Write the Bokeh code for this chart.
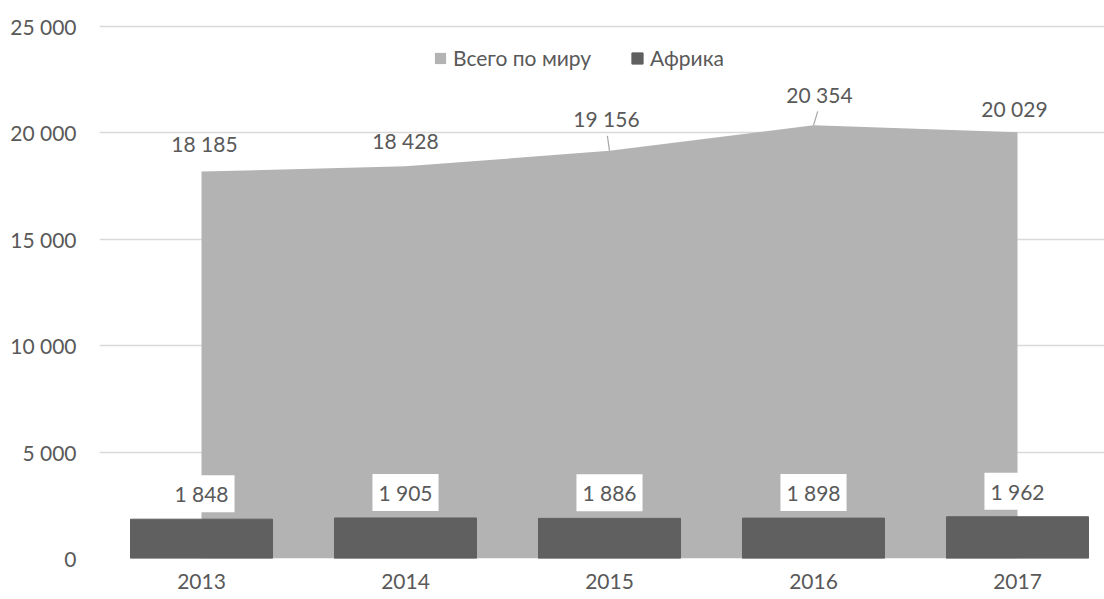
from bokeh.plotting import figure
from bokeh.models import Range1d, FixedTicker, ColumnDataSource, Legend, LegendItem
from bokeh.core.properties import value
from bokeh.embed import file_html
from bokeh.resources import INLINE

# ---- data ----
years = ["2013", "2014", "2015", "2016", "2017"]
world = [18185, 18428, 19156, 20354, 20029]
africa = [1848, 1905, 1886, 1898, 1962]
y_ticks = [0, 5000, 10000, 15000, 20000, 25000]
series_names = ["Всего по миру", "Африка"]


def fmt(v):
    return f"{v:,}".replace(",", " ")


# ---- style ----
FONT = "Lato"
TXT = "#595959"
AREA_C = "#b3b3b3"
BAR_C = "#606060"
GRID_C = "#d9d9d9"
FS = "21px"

W, H = 1104, 599
MB_L, MB_R, MB_T, MB_B = 99, 0, 24, 41
frame_w = W - MB_L - MB_R
frame_h = H - MB_T - MB_B
cat_px = 204.0
x_start = -0.5
x_end = x_start + frame_w / cat_px
y_top_tick = y_ticks[-1]
px_y = 532.0 / y_top_tick  # pixels per unit value
y_max = y_top_tick + (frame_h - 532.0) / px_y  # headroom so top gridline shows

x = list(range(len(years)))

# label styling offsets (pixels)
area_lbl_dx = [3, 0, -3, 6, -3]
area_lbl_dy = [28, 26, 32, 31, 24]
leader = [False, False, True, True, False]

src = ColumnDataSource(dict(
    x=x,
    world=world,
    africa=africa,
    world_lbl=[fmt(v) for v in world],
    africa_lbl=[fmt(v) for v in africa],
))

p = figure(width=W, height=H, output_backend="svg", toolbar_location=None,
           x_range=Range1d(x_start, x_end), y_range=Range1d(0, y_max),
           min_border_left=MB_L, min_border_right=MB_R,
           min_border_top=MB_T, min_border_bottom=MB_B)
p.outline_line_color = None
p.background_fill_color = "white"
p.border_fill_color = "white"

area = p.varea(x="x", y1=0, y2="world", source=src, fill_color=AREA_C)
bars = p.vbar(x="x", top="africa", width=0.696, source=src,
              fill_color=BAR_C, line_color=BAR_C)

# leader lines for the area labels that have them
for i in range(len(x)):
    if leader[i]:
        p.segment(x0=[x[i]], y0=[world[i]],
                  x1=[x[i] + (area_lbl_dx[i] * 0.7) / cat_px],
                  y1=[world[i] + (area_lbl_dy[i] - 17) / px_y],
                  line_color="#a6a6a6", line_width=1.2)

# area labels
for i in range(len(x)):
    p.text(x=[x[i]], y=[world[i]], text=[fmt(world[i])],
           x_offset=area_lbl_dx[i], y_offset=-area_lbl_dy[i],
           text_align="center", text_baseline="middle",
           text_font=value(FONT), text_font_size=FS, text_color=TXT)

# bar labels with white boxes
p.text(x="x", y="africa", text="africa_lbl", source=src,
       y_offset=-25.5, text_align="center", text_baseline="middle",
       text_font=value(FONT), text_font_size=FS, text_color=TXT,
       background_fill_color="white", padding=6)

# axes
p.yaxis.ticker = FixedTicker(ticks=y_ticks)
p.yaxis.major_label_overrides = {v: fmt(v) for v in y_ticks}
p.xaxis.ticker = FixedTicker(ticks=x)
p.xaxis.major_label_overrides = {i: y for i, y in zip(x, years)}
for ax in (p.xaxis[0], p.yaxis[0]):
    ax.axis_line_color = None
    ax.major_tick_line_color = None
    ax.minor_tick_line_color = None
    ax.major_tick_out = 0
    ax.major_tick_in = 0
    ax.major_label_text_font = FONT
    ax.major_label_text_font_size = FS
    ax.major_label_text_color = TXT
p.yaxis.major_label_standoff = 23
p.xaxis.major_label_standoff = 15

p.xgrid.visible = False
p.ygrid.grid_line_color = GRID_C
p.ygrid.grid_line_width = 1.3

legend = Legend(items=[LegendItem(label=series_names[0], renderers=[area]),
                       LegendItem(label=series_names[1], renderers=[bars])],
                orientation="horizontal", location=(334, 488),
                glyph_width=14, glyph_height=14, label_standoff=6, spacing=39,
                padding=0, margin=0, border_line_color=None,
                background_fill_alpha=0,
                label_text_font=FONT, label_text_font_size=FS,
                label_text_color=TXT)
p.add_layout(legend)

open("out.html", "w").write(file_html(p, INLINE))
